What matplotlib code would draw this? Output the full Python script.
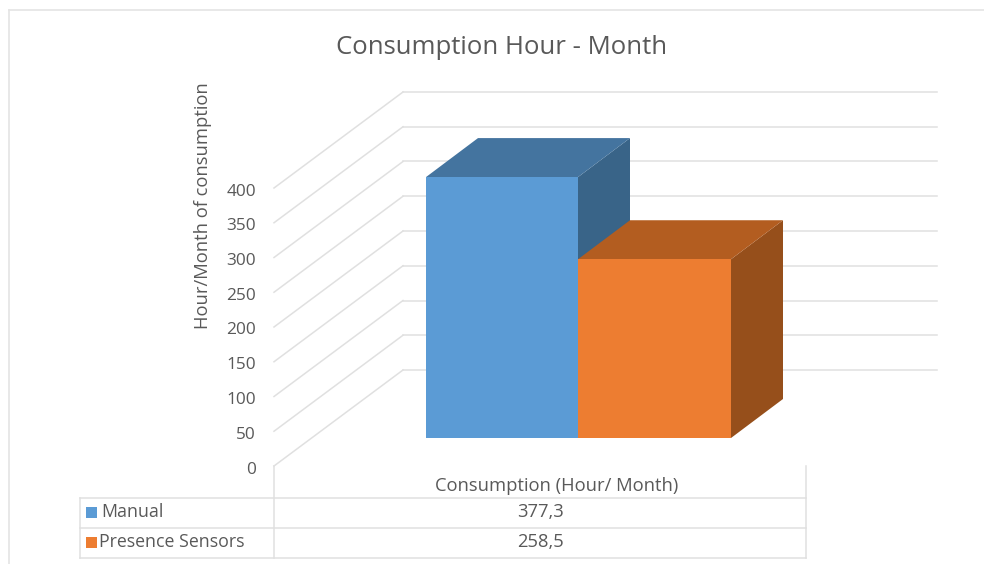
import matplotlib
matplotlib.use("Agg")
import matplotlib.pyplot as plt
from matplotlib.patches import Polygon, Rectangle

plt.rcParams['font.family'] = ['Open Sans', 'DejaVu Sans']

# ---- data ----
series = ["Manual", "Presence Sensors"]
values = [377.3, 258.5]
value_labels = ["377,3", "258,5"]
category = "Consumption (Hour/ Month)"
ticks = [0, 50, 100, 150, 200, 250, 300, 350, 400]
title = "Consumption Hour - Month"
ylabel = "Hour/Month of consumption"

# ---- style / layout ----
W, H = 984, 564
front_colors = ["#5B9BD5", "#ED7D31"]
top_colors = ["#44749F", "#B35D20"]
side_colors = ["#396488", "#964F1B"]
grid = "#E0E0E0"
txt = "#595959"
Y0 = 466            # pixel row of value 0 on the front plane
PX = 0.695          # pixels per unit
BAR_SCALE = 0.995   # perspective shrink of bars at their depth
X0 = 274
WALL_X, WALL_DY = 129, 96
RIGHT = 937
BAR_LEFT = [426, 578]
BAR_W = [152, 153]
BAR_BASE = 438
BAR_DX, BAR_DY = 52, 39

fig = plt.figure(figsize=(W / 100, H / 100), dpi=100)
# pixel axes for frame and table
pa = fig.add_axes([0, 0, 1, 1], zorder=1)
pa.set_xlim(0, W); pa.set_ylim(H, 0); pa.axis("off")
# value axes: x in pixels, y in chart value
ax = fig.add_axes([0, 0, 1, 1], zorder=2)
ax.set_xlim(0, W)
ax.set_ylim((Y0 - H) / PX, Y0 / PX)
ax.axis("off")
ax.patch.set_alpha(0)

# frame
pa.plot([9, 9], [10, H], color="#E4E4E4", lw=1.2)
pa.plot([9, W], [10, 10], color="#E4E4E4", lw=1.2)

wall = WALL_DY / PX
# gridlines on side and back walls
for t in ticks:
    ax.plot([X0, X0 + WALL_X], [t, t + wall], color=grid, lw=1.1, zorder=1)
    ax.plot([X0 + WALL_X, RIGHT], [t + wall, t + wall], color=grid, lw=1.1, zorder=1)
    ax.text(256, t - 3.5 / PX, str(t), ha="right", va="center", fontsize=12.4, color=txt)

# bars
base = (Y0 - BAR_BASE) / PX
dz = BAR_DY / PX
for i in range(len(values)):
    l, w, v = BAR_LEFT[i], BAR_W[i], values[i] * BAR_SCALE
    top = base + v
    ax.add_patch(Polygon([(l + w, base), (l + w + BAR_DX, base + dz),
                          (l + w + BAR_DX, top + dz), (l + w, top)],
                         closed=True, fc=side_colors[i], ec="none", zorder=3 + i))
    ax.add_patch(Polygon([(l, top), (l + BAR_DX, top + dz),
                          (l + w + BAR_DX, top + dz), (l + w, top)],
                         closed=True, fc=top_colors[i], ec="none", zorder=3 + i))
    ax.bar(l, v, width=w, bottom=base, align="edge", color=front_colors[i], zorder=4 + i)

# data table
tl, tr, ts = 80, 806, 274
rows = [498, 528, 558]
for r in rows:
    pa.plot([tl, tr], [r, r], color=grid, lw=1.1)
pa.plot([tl, tl], [rows[0], rows[-1]], color=grid, lw=1.1)
pa.plot([ts, ts], [Y0, rows[-1]], color=grid, lw=1.1)
pa.plot([tr, tr], [Y0, rows[-1]], color=grid, lw=1.1)
pa.text(557, 486, category, ha="center", va="center", fontsize=13.2, color=txt)
label_x = [101, 99]
for i, r in enumerate(rows[:-1]):
    pa.add_patch(Rectangle((86, r + 9), 11, 11, fc=front_colors[i], ec="none"))
    pa.text(label_x[i], r + 14, series[i], ha="left", va="center", fontsize=12.8, color=txt)
    pa.text(540, r + 14, value_labels[i], ha="center", va="center", fontsize=13.2, color=txt)

pa.text(502, 47.5, title, ha="center", va="center", fontsize=18.5, color=txt)
pa.text(202.5, 206, ylabel, rotation=90, ha="center", va="center", fontsize=13.2, color=txt)

fig.savefig("out.png", dpi=100, facecolor="white")
